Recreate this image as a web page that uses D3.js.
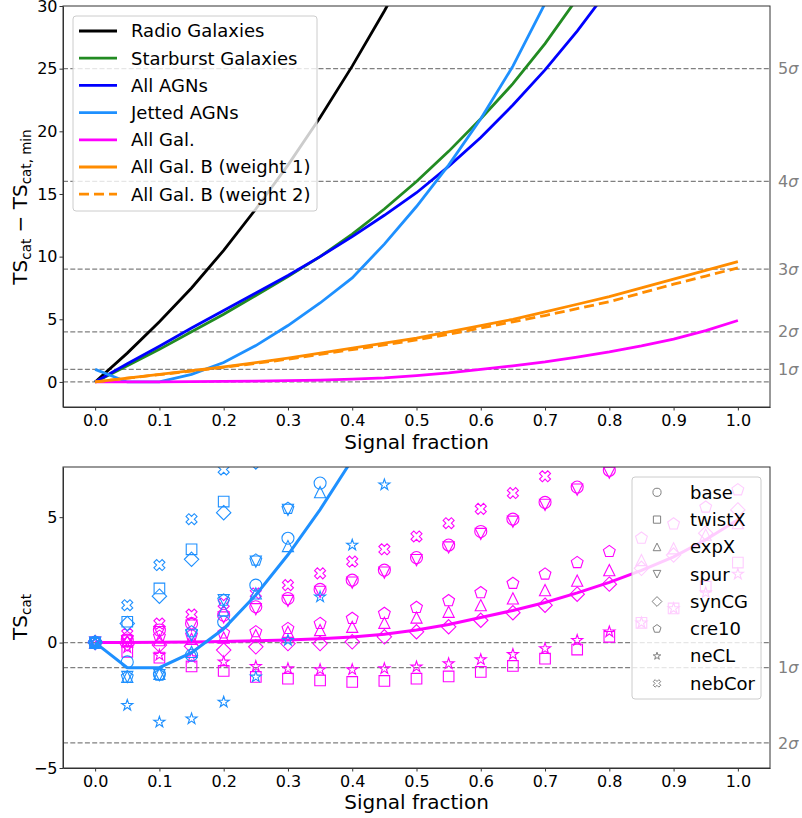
<!DOCTYPE html>
<html lang="en">
<head>
<meta charset="UTF-8">
<title>TS_cat vs signal fraction</title>
<script src="https://cdn.jsdelivr.net/npm/d3@7"></script>
<style>
body { margin: 0; background: #fff; }
svg { display: block; font-family: "DejaVu Sans", sans-serif; }
.axis text { font-size: 16px; fill: #000; font-family: "DejaVu Sans", sans-serif; }
.axis path, .axis line { stroke: #333; }
</style>
</head>
<body>
<script type="text/javascript">
// signal fractions (x positions of every computed point)
var fractions = [0.0, 0.05, 0.1, 0.15, 0.2, 0.25, 0.3, 0.35, 0.4, 0.45, 0.5,
                 0.55, 0.6, 0.65, 0.7, 0.75, 0.8, 0.85, 0.9, 0.95, 1.0];
var xTicks = [0.0, 0.1, 0.2, 0.3, 0.4, 0.5, 0.6, 0.7, 0.8, 0.9, 1.0];
var yTicksTop = [0, 5, 10, 15, 20, 25, 30];
var yTicksBottom = [-5, 0, 5];

// top panel: TS_cat - TS_cat,min
var radioGalaxies = [0, 2.3, 4.8, 7.5, 10.5, 13.8, 17.3, 21.1, 25.2, 29.6, 34.3];
var starburstGalaxies = [0, 1.3, 2.6, 4.0, 5.4, 6.9, 8.4, 10.0, 11.8, 13.8, 16.0, 18.4, 21.0, 23.8, 27.0, 30.6];
var allAgns = [0, 1.45, 2.85, 4.3, 5.7, 7.1, 8.5, 10.0, 11.6, 13.3, 15.1, 17.2, 19.5, 22.1, 24.9, 28.0, 31.4];
var jettedAgns = [1, 0, 0, 0.6, 1.55, 2.9, 4.5, 6.3, 8.3, 11.0, 14.0, 17.3, 21.0, 25.2, 30.2];
var allGal = [0, 0.0, 0.01, 0.02, 0.04, 0.07, 0.1, 0.15, 0.22, 0.33, 0.5, 0.72, 1.0, 1.28, 1.6, 1.98, 2.4, 2.88, 3.42, 4.1, 4.9];
var allGalB1 = [0, 0.3, 0.6, 0.9, 1.2, 1.55, 1.9, 2.3, 2.7, 3.1, 3.5, 4.0, 4.5, 5.0, 5.6, 6.2, 6.8, 7.5, 8.2, 8.9, 9.6];
var allGalB2 = [0, 0.3, 0.58, 0.87, 1.16, 1.48, 1.82, 2.2, 2.58, 2.95, 3.35, 3.8, 4.3, 4.8, 5.3, 5.85, 6.4, 7.1, 7.8, 8.45, 9.1];

// bottom panel: TS_cat
var jettedTS = [0, -1, -1, -0.4, 0.55, 1.9, 3.5, 5.3, 7.3, 10.0];
var allGalTS = allGal;

var variants = ["base", "twistX", "expX", "spur", "synCG", "cre10", "neCL", "nebCor"];

// Jetted AGN variants (x = 0 .. 0.45)
var jetBase   = [0, -0.77, -1.25, -0.5, 0.82, 2.29, 4.16, 6.36, 8.6, 11.0];
var jetTwistX = [0, 0.83, 2.16, 3.72, 5.62, 7.6, 9.5, 11.5, 13.5, 15.5];
var jetExpX   = [0, -1.37, -1.25, -0.37, 1.29, 1.96, 3.85, 6.0, 8.3, 10.8];
var jetSpur   = [0, -1.37, -1.3, 0.29, 1.69, 3.23, 5.29, 7.5, 9.8, 12.3];
var jetSynCG  = [0, 0.76, 1.85, 3.32, 5.18, 7.2, 9.3, 11.4, 13.5, 15.6];
var jetCre10  = [0, -1.37, -1.3, 0.43, 1.69, 3.29, 5.35, 7.6, 9.9, 12.4];
var jetNeCL   = [0, -2.5, -3.17, -3.04, -2.37, -1.37, 0.09, 1.82, 3.89, 6.29];
var jetNebCor = [0, 1.49, 3.09, 4.92, 6.9, 9.0, 11.0, 13.0, 15.0, 17.0];

// All Gal. variants (x = 0 .. 1.0)
var galBase   = [0, 0.1, 0.5, 0.76, 1.09, 1.43, 1.76, 2.12, 2.49, 2.89, 3.39, 3.89, 4.43, 4.92, 5.59, 6.2, 6.87, 7.6, 8.4, 9.2, 10.0];
var galTwistX = [0, -0.37, -0.6, -0.95, -1.13, -1.37, -1.44, -1.51, -1.57, -1.53, -1.44, -1.35, -1.17, -0.93, -0.64, -0.28, 0.23, 0.79, 1.36, 2.23, 3.19];
var galExpX   = [0, 0.05, 0.1, 0.15, 0.2, 0.3, 0.43, 0.5, 0.63, 0.79, 1.0, 1.23, 1.49, 1.76, 2.09, 2.47, 2.89, 3.29, 3.76, 4.3, 4.76];
var galSpur   = [0, 0.05, 0.42, 0.68, 1.0, 1.33, 1.66, 2.02, 2.39, 2.79, 3.29, 3.79, 4.33, 4.82, 5.49, 6.1, 6.77, 7.5, 8.3, 9.1, 9.9];
var galSynCG  = [0, -0.05, -0.1, -0.15, -0.3, -0.17, -0.04, -0.04, 0.03, 0.23, 0.43, 0.63, 0.89, 1.19, 1.49, 1.93, 2.33, 2.96, 3.49, 4.36, 5.29];
var galCre10  = [0, 0.2, 0.25, 0.3, 0.38, 0.43, 0.56, 0.76, 0.96, 1.16, 1.4, 1.67, 1.99, 2.36, 2.73, 3.19, 3.63, 4.16, 4.73, 5.4, 6.09];
var galNeCL   = [0, -0.2, -0.5, -0.6, -0.77, -0.95, -1.04, -1.08, -1.08, -1.04, -0.97, -0.84, -0.68, -0.47, -0.24, 0.09, 0.43, 0.79, 1.36, 1.99, 2.73];
var galNebCor = [0, 0.35, 0.76, 1.12, 1.56, 1.96, 2.29, 2.76, 3.23, 3.72, 4.23, 4.76, 5.33, 5.96, 6.63, 7.3, 8.0, 8.7, 9.4, 10.2, 11.0];

// significance levels (TS value, label)
var sigmaTop = [1, 4, 9, 16, 25];
var sigmaTopLabels = ["1", "2", "3", "4", "5"];
var sigmaBottom = [-1, -4];
var sigmaBottomLabels = ["1", "2"];

var topLegend = ["Radio Galaxies", "Starburst Galaxies", "All AGNs", "Jetted AGNs",
                 "All Gal.", "All Gal. B (weight 1)", "All Gal. B (weight 2)"];

var width = 802, height = 818;
var topBox = {left: 63, right: 770, top: 6, bottom: 407};
var botBox = {left: 63, right: 770, top: 467, bottom: 768};

var x = d3.scaleLinear().domain([-0.05, 1.05]).range([topBox.left, topBox.right]);
var yTop = d3.scaleLinear().domain([-2, 30]).range([topBox.bottom, topBox.top]);
var yBot = d3.scaleLinear().domain([-5, 7]).range([botBox.bottom, botBox.top]);

var svg = d3.select("body").append("svg")
    .attr("width", width)
    .attr("height", height);

var defs = svg.append("defs");
defs.append("clipPath").attr("id", "clipTop").append("rect")
    .attr("x", topBox.left).attr("y", topBox.top)
    .attr("width", topBox.right - topBox.left).attr("height", topBox.bottom - topBox.top);
defs.append("clipPath").attr("id", "clipBot").append("rect")
    .attr("x", botBox.left).attr("y", botBox.top)
    .attr("width", botBox.right - botBox.left).attr("height", botBox.bottom - botBox.top);

function pairs(values) {
    return values.map(function (v, i) { return [fractions[i], v]; });
}

// marker shapes, s = half size
function markerPath(kind, s) {
    var p = [];
    if (kind === "base") {
        return "M" + s + ",0A" + s + "," + s + " 0 1,1 " + (-s) + ",0A" + s + "," + s + " 0 1,1 " + s + ",0Z";
    } else if (kind === "twistX") {
        var q = s * 0.9;
        p = [[-q, -q], [q, -q], [q, q], [-q, q]];
    } else if (kind === "expX") {
        p = [[0, -s], [s, s], [-s, s]];
    } else if (kind === "spur") {
        p = [[0, s], [s, -s], [-s, -s]];
    } else if (kind === "synCG") {
        var d = s * 1.2;
        p = [[0, -d], [d, 0], [0, d], [-d, 0]];
    } else if (kind === "cre10") {
        for (var i = 0; i < 5; i++) {
            var a = -Math.PI / 2 + i * 2 * Math.PI / 5;
            p.push([s * Math.cos(a), s * Math.sin(a)]);
        }
    } else if (kind === "neCL") {
        for (var j = 0; j < 10; j++) {
            var b = -Math.PI / 2 + j * Math.PI / 5;
            var r = (j % 2 === 0) ? s : s * 0.382;
            p.push([r * Math.cos(b), r * Math.sin(b)]);
        }
    } else if (kind === "nebCor") {
        var L = s, w = s * 0.34;
        var plus = [[w, L], [w, w], [L, w], [L, -w], [w, -w], [w, -L], [-w, -L], [-w, -w], [-L, -w], [-L, w], [-w, w], [-w, L]];
        var c = Math.SQRT1_2;
        p = plus.map(function (pt) { return [c * (pt[0] - pt[1]), c * (pt[0] + pt[1])]; });
    }
    return "M" + p.map(function (pt) { return pt[0].toFixed(2) + "," + pt[1].toFixed(2); }).join("L") + "Z";
}

var markerSize = {base: 6, twistX: 5.9, expX: 5.6, spur: 5.6, synCG: 6, cre10: 6.2, neCL: 5.8, nebCor: 5.8};

// ---------- helpers for axes and reference lines ----------
function drawAxes(box, y, yTicks) {
    svg.append("g")
        .attr("class", "axis")
        .attr("transform", "translate(0," + box.bottom + ")")
        .call(d3.axisBottom(x).tickValues(xTicks).tickFormat(d3.format(".1f"))
            .tickSize(3.5).tickPadding(4.5).tickSizeOuter(0));
    svg.append("g")
        .attr("class", "axis")
        .attr("transform", "translate(" + box.left + ",0)")
        .call(d3.axisLeft(y).tickValues(yTicks).tickFormat(function (d) { return d < 0 ? "\u2212" + Math.abs(d) : d; })
            .tickSize(3.5).tickPadding(2).tickSizeOuter(0));
    svg.append("rect")
        .attr("x", box.left).attr("y", box.top)
        .attr("width", box.right - box.left).attr("height", box.bottom - box.top)
        .attr("fill", "none").attr("stroke", "#333").attr("stroke-width", 1);
}

function drawRefLines(g, y, levels) {
    g.selectAll(".ref").data(levels).enter().append("line")
        .attr("x1", x(-0.05)).attr("x2", x(1.05))
        .attr("y1", function (d) { return y(d); })
        .attr("y2", function (d) { return y(d); })
        .attr("stroke", "#808080").attr("stroke-width", 1.3)
        .attr("stroke-dasharray", "5,2.3");
}

function drawSigma(y, levels, labels) {
    var t = svg.selectAll(null).data(levels).enter().append("text")
        .attr("x", 778)
        .attr("y", function (d) { return y(d); })
        .attr("dy", "0.35em")
        .attr("font-size", "16px")
        .attr("fill", "#808080");
    t.append("tspan").text(function (d, i) { return labels[i]; });
    t.append("tspan").attr("font-style", "italic").text("\u03c3");
}

// ---------- top panel ----------
var gTop = svg.append("g").attr("clip-path", "url(#clipTop)");
drawRefLines(gTop, yTop, [0].concat(sigmaTop));

var lineTop = d3.line().x(function (d) { return x(d[0]); }).y(function (d) { return yTop(d[1]); });
var topSeries = [
    {values: radioGalaxies, color: "#000000", dash: null},
    {values: starburstGalaxies, color: "#228B22", dash: null},
    {values: allAgns, color: "#0000FF", dash: null},
    {values: jettedAgns, color: "#1E90FF", dash: null},
    {values: allGal, color: "#FF00FF", dash: null},
    {values: allGalB1, color: "#FF8C00", dash: null},
    {values: allGalB2, color: "#FF8C00", dash: "10,5"}
];
topSeries.forEach(function (s) {
    gTop.append("path")
        .datum(pairs(s.values))
        .attr("d", lineTop)
        .attr("fill", "none")
        .attr("stroke", s.color)
        .attr("stroke-width", 2.8)
        .attr("stroke-dasharray", s.dash);
});

drawAxes(topBox, yTop, yTicksTop);
drawSigma(yTop, sigmaTop, sigmaTopLabels);

// top legend
var legTop = svg.append("g");
legTop.append("rect")
    .attr("x", 73).attr("y", 16).attr("width", 244).attr("height", 195).attr("rx", 3)
    .attr("fill", "#fff").attr("fill-opacity", 0.8)
    .attr("stroke", "#cccccc").attr("stroke-width", 1);
topSeries.forEach(function (s, i) {
    var yy = 31 + i * 27.2;
    legTop.append("line")
        .attr("x1", 79).attr("x2", 117).attr("y1", yy).attr("y2", yy)
        .attr("stroke", s.color).attr("stroke-width", 2.8)
        .attr("stroke-dasharray", s.dash);
    legTop.append("text")
        .attr("x", 131).attr("y", yy).attr("dy", "0.35em")
        .attr("font-size", "18px")
        .text(topLegend[i]);
});

// axis labels top
svg.append("text")
    .attr("x", (topBox.left + topBox.right) / 2).attr("y", 449)
    .attr("text-anchor", "middle").attr("font-size", "20px")
    .text("Signal fraction");
var ylabTop = svg.append("text")
    .attr("transform", "translate(27,207) rotate(-90)")
    .attr("text-anchor", "middle").attr("font-size", "20px");
ylabTop.append("tspan").text("TS");
ylabTop.append("tspan").attr("font-size", "13.5px").attr("dy", 4).text("cat");
ylabTop.append("tspan").attr("dy", -4).text(" \u2212 TS");
ylabTop.append("tspan").attr("font-size", "13.5px").attr("dy", 4).text("cat, min");

// ---------- bottom panel ----------
var gBot = svg.append("g").attr("clip-path", "url(#clipBot)");
drawRefLines(gBot, yBot, [0].concat(sigmaBottom));

var lineBot = d3.line().x(function (d) { return x(d[0]); }).y(function (d) { return yBot(d[1]); });

function drawMarkers(g, seriesList, color) {
    seriesList.forEach(function (vals, k) {
        var kind = variants[k];
        g.selectAll(null).data(pairs(vals)).enter().append("path")
            .attr("d", markerPath(kind, markerSize[kind]))
            .attr("transform", function (d) { return "translate(" + x(d[0]) + "," + yBot(d[1]) + ")"; })
            .attr("fill", "none")
            .attr("stroke", color)
            .attr("stroke-width", 1.1);
    });
}

drawMarkers(gBot, [galBase, galTwistX, galExpX, galSpur, galSynCG, galCre10, galNeCL, galNebCor], "#FF00FF");
gBot.append("path").datum(pairs(allGalTS)).attr("d", lineBot)
    .attr("fill", "none").attr("stroke", "#FF00FF").attr("stroke-width", 3);
drawMarkers(gBot, [jetBase, jetTwistX, jetExpX, jetSpur, jetSynCG, jetCre10, jetNeCL, jetNebCor], "#1E90FF");
gBot.append("path").datum(pairs(jettedTS)).attr("d", lineBot)
    .attr("fill", "none").attr("stroke", "#1E90FF").attr("stroke-width", 3);

drawAxes(botBox, yBot, yTicksBottom);
drawSigma(yBot, sigmaBottom, sigmaBottomLabels);

// bottom legend
var legBot = svg.append("g");
legBot.append("rect")
    .attr("x", 632).attr("y", 477).attr("width", 129).attr("height", 222).attr("rx", 3)
    .attr("fill", "#fff").attr("fill-opacity", 0.8)
    .attr("stroke", "#cccccc").attr("stroke-width", 1);
variants.forEach(function (kind, i) {
    var yy = 492.3 + i * 27.3;
    legBot.append("path")
        .attr("d", markerPath(kind, markerSize[kind] * 0.68))
        .attr("transform", "translate(657," + yy + ")")
        .attr("fill", "none").attr("stroke", "#808080").attr("stroke-width", 1);
    legBot.append("text")
        .attr("x", 690).attr("y", yy).attr("dy", "0.35em")
        .attr("font-size", "18px")
        .text(kind);
});

svg.append("text")
    .attr("x", (botBox.left + botBox.right) / 2).attr("y", 809)
    .attr("text-anchor", "middle").attr("font-size", "20px")
    .text("Signal fraction");
var ylabBot = svg.append("text")
    .attr("transform", "translate(27,617) rotate(-90)")
    .attr("text-anchor", "middle").attr("font-size", "20px");
ylabBot.append("tspan").text("TS");
ylabBot.append("tspan").attr("font-size", "13.5px").attr("dy", 4).text("cat");
</script>
</body>
</html>
